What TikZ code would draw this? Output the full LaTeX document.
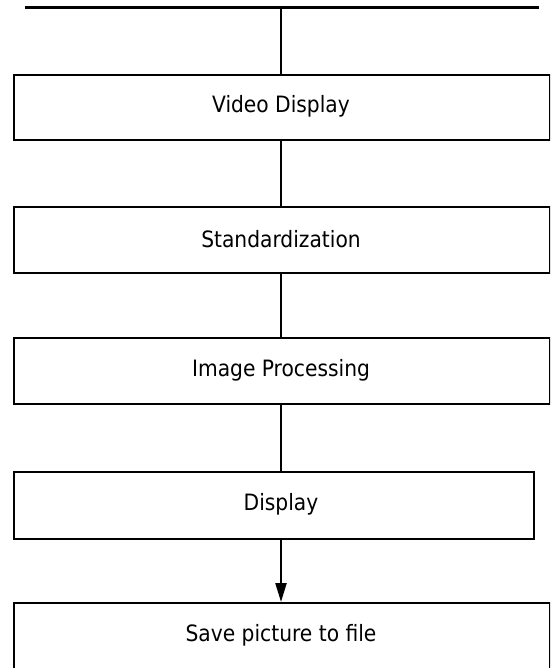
\documentclass[tikz,border=0pt]{standalone}
\usepackage{fontspec}
\setmainfont{DejaVu Sans Condensed}
\usetikzlibrary{arrows.meta}
\begin{document}
\begin{tikzpicture}[x=1pt,y=1pt,
  stagebox/.style={draw, line width=2.2pt, rectangle, anchor=north west, inner sep=0pt},
  stagetext/.style={font=\fontsize{22.5}{26}\selectfont, inner sep=0pt},
  link/.style={line width=2.2pt}]
  \useasboundingbox (0,0) rectangle (550,-668);
  \begin{scope}
  \clip (0,0) rectangle (550,-668);
  % top bus line
  \coordinate (busL) at (24.5,-7.5);
  \coordinate (busR) at (538.5,-7.5);
  \coordinate (busM) at (281,-7.5);
  \draw[link] (busL) -- (busR);
  % stage boxes
  \node[stagebox, minimum width=536pt, minimum height=65pt] (b1) at (12.5,-74) {};
  \node[stagebox, minimum width=536pt, minimum height=66pt] (b2) at (12.5,-206) {};
  \node[stagebox, minimum width=536pt, minimum height=66pt] (b3) at (12.5,-337) {};
  \node[stagebox, minimum width=520.5pt, minimum height=67pt] (b4) at (12.5,-471) {};
  \node[stagebox, minimum width=536pt, minimum height=75pt] (b5) at (12.5,-602) {};
  % labels
  \node[stagetext] (t1) at (281,-106.5) {Video Display};
  \node[stagetext] (t2) at (281,-239) {Standardization};
  \node[stagetext] (t3) at (281,-370) {Image Processing};
  \node[stagetext] (t4) at (281,-504.5) {Display};
  \node[stagetext] (t5) at (281,-635) {Save picture to file};
  % connectors
  \draw[link] (busM) -- (busM |- b1.north);
  \draw[link] (busM |- b1.south) -- (busM |- b2.north);
  \draw[link] (busM |- b2.south) -- (busM |- b3.north);
  \draw[link] (busM |- b3.south) -- (busM |- b4.north);
  \draw[link, -{Triangle[length=19pt,width=11pt]}] (busM |- b4.south) -- (busM |- b5.north);
  \end{scope}
\end{tikzpicture}
\end{document}
